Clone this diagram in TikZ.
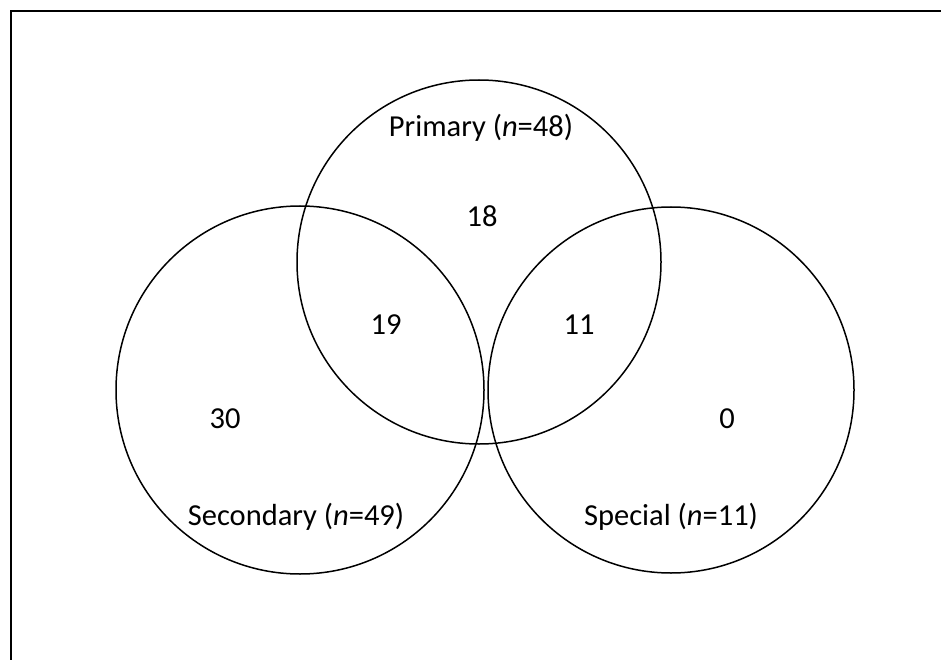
\documentclass[tikz,border=0pt]{standalone}
\usepackage{fontspec}
\setmainfont{Carlito}
\usepackage{tikz}

\begin{document}
\begin{tikzpicture}[x=1pt, y=-1pt, lbl/.style={font=\fontsize{30.5}{34}\selectfont}]

\useasboundingbox (0,0) rectangle (941,660);

\draw[line width=2.5pt] (11,662) -- (11,11) -- (943,11);

\draw[line width=1.5pt] (479,262) circle (182);
\draw[line width=1.5pt] (300,390) circle (184);
\draw[line width=1.5pt] (671,390) circle (183);

\node[lbl] (prim) at (481,128) {Primary (\textit{n}=48)};
\node[lbl] (sec) at (296,517) {Secondary (\textit{n}=49)};
\node[lbl] (spec) at (671,517) {Special (\textit{n}=11)};

\node[lbl] (onlyprim) at (482,216) {18};
\node[lbl] (primsec) at (386,325) {19};
\node[lbl] (primspec) at (579,325) {11};
\node[lbl] (onlysec) at (225,419) {30};
\node[lbl] (onlyspec) at (727,419) {0};

\end{tikzpicture}
\end{document}
